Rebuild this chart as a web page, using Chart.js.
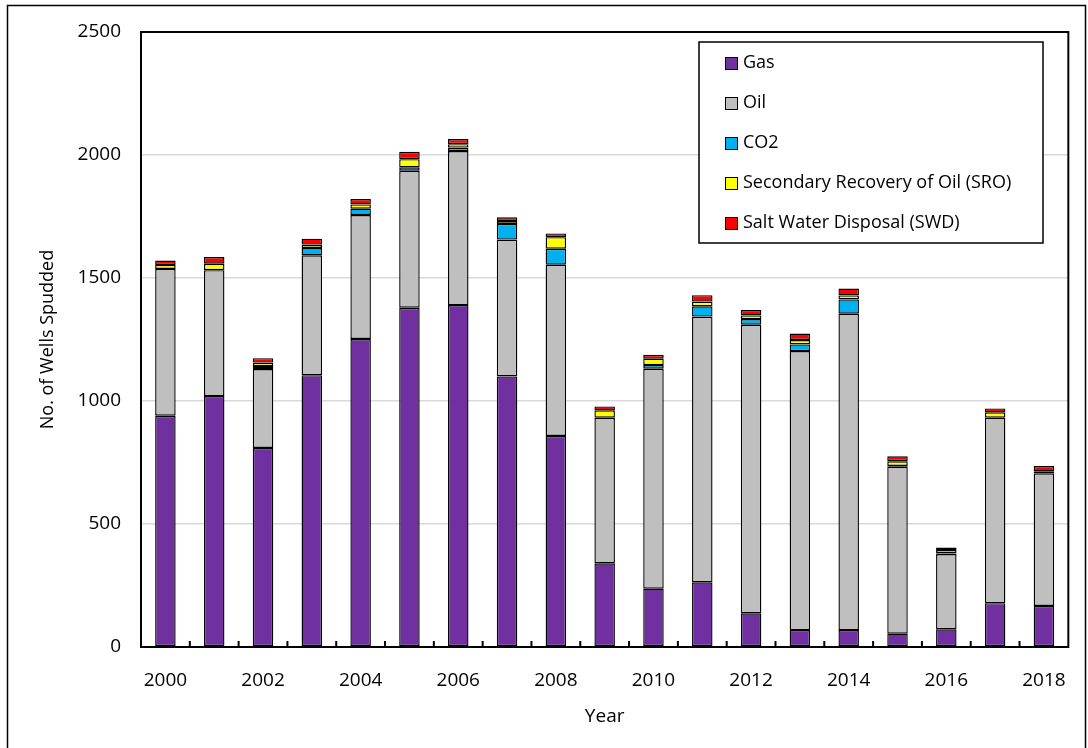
<!DOCTYPE html>
<html>
<head>
<meta charset="utf-8">
<script src="https://cdn.jsdelivr.net/npm/chart.js@4.4.1/dist/chart.umd.min.js"></script>
<style>
  html, body { margin: 0; padding: 0; background: #fff; }
  #wrap { position: relative; width: 1088px; height: 748px; }
</style>
</head>
<body>
<div id="wrap"><canvas id="wellsChart" width="1088" height="748"></canvas></div>
<script>
// Wells spudded per year, by well type
const years = ['2000', '2001', '2002', '2003', '2004', '2005', '2006', '2007', '2008', '2009',
               '2010', '2011', '2012', '2013', '2014', '2015', '2016', '2017', '2018'];
const gasWells = [940, 1020, 809, 1105, 1252, 1379, 1390, 1100, 858, 340, 237, 263, 137, 69, 69, 54, 72, 178, 167];
const oilWells = [597, 512, 321, 487, 504, 557, 626, 556, 696, 592, 894, 1080, 1173, 1134, 1286, 679, 306, 754, 539];
const co2Wells = [0, 0, 12, 30, 26, 14, 14, 64, 65, 0, 15, 42, 23, 27, 58, 3, 2, 0, 0];
const sroWells = [16, 26, 14, 14, 17, 33, 14, 12, 47, 30, 26, 19, 15, 18, 16, 19, 14, 22, 8];
const swdWells = [18, 27, 18, 24, 22, 30, 21, 15, 15, 16, 16, 26, 22, 26, 28, 20, 10, 16, 22];
const yTicks = [0, 500, 1000, 1500, 2000, 2500];

const FONT = "'Open Sans', 'Noto Sans', sans-serif";

// outer frame + inward tick marks on the x axis
const framePlugin = {
    id: 'frame',
    beforeDraw(chart) {
        const ctx = chart.ctx;
        ctx.save();
        ctx.strokeStyle = '#000';
        ctx.lineWidth = 1.5;
        ctx.strokeRect(7.5, 5.5, 1078, 760);
        ctx.restore();
    },
    afterDraw(chart) {
        const ctx = chart.ctx;
        const area = chart.chartArea;
        const x = chart.scales.x;
        ctx.save();
        ctx.strokeStyle = '#000';
        ctx.lineWidth = 2;
        // plot border
        ctx.strokeRect(area.left, area.top, area.right - area.left, area.bottom - area.top);
        // small ticks between categories
        ctx.beginPath();
        for (let i = 0; i < years.length - 1; i++) {
            const px = (x.getPixelForValue(i) + x.getPixelForValue(i + 1)) / 2;
            ctx.moveTo(px, area.bottom);
            ctx.lineTo(px, area.bottom - 6);
        }
        ctx.stroke();
        ctx.restore();
    }
};

// boxed legend sitting inside the plot area
const boxLegendPlugin = {
    id: 'boxLegend',
    afterDraw(chart) {
        const ctx = chart.ctx;
        const area = chart.chartArea;
        const left = area.left + 558;
        const top = area.top + 10;
        ctx.save();
        ctx.fillStyle = '#fff';
        ctx.fillRect(left, top, 344, 201);
        ctx.strokeStyle = '#000';
        ctx.lineWidth = 1.5;
        ctx.strokeRect(left, top, 344, 201);
        ctx.font = '18px ' + FONT;
        ctx.textBaseline = 'middle';
        chart.data.datasets.forEach((ds, i) => {
            const cy = top + 21 + i * 40;
            ctx.fillStyle = ds.backgroundColor;
            ctx.fillRect(left + 26, cy - 6, 12, 12);
            ctx.lineWidth = 1;
            ctx.strokeRect(left + 26.5, cy - 5.5, 12, 12);
            ctx.fillStyle = '#000';
            ctx.fillText(ds.label, left + 44, cy);
        });
        ctx.restore();
    }
};

function makeSet(label, data, color) {
    return {
        label: label,
        data: data,
        backgroundColor: color,
        borderColor: '#000',
        borderWidth: 1.4,
        borderSkipped: false,
        barPercentage: 0.42,
        categoryPercentage: 1.0
    };
}

const ctx = document.getElementById('wellsChart').getContext('2d');
new Chart(ctx, {
    type: 'bar',
    data: {
        labels: years,
        datasets: [
            makeSet('Gas', gasWells, '#7030A0'),
            makeSet('Oil', oilWells, '#BFBFBF'),
            makeSet('CO2', co2Wells, '#00B0F0'),
            makeSet('Secondary Recovery of Oil (SRO)', sroWells, '#FFFF00'),
            makeSet('Salt Water Disposal (SWD)', swdWells, '#FF0000')
        ]
    },
    options: {
        responsive: false,
        animation: false,
        layout: { padding: { top: 32, right: 13, left: 37, bottom: 20 } },
        plugins: {
            legend: { display: false },
            tooltip: { enabled: false }
        },
        scales: {
            x: {
                stacked: true,
                afterFit: function(scale) {
                    scale.height = 81;
                },
                grid: { display: false, drawTicks: false },
                border: { display: false },
                ticks: {
                    autoSkip: false,
                    maxRotation: 0,
                    padding: 22,
                    color: '#000',
                    font: { family: FONT, size: 19 },
                    callback: function(value, index) {
                        return index % 2 === 0 ? years[index] : '';
                    }
                },
                title: {
                    display: true,
                    text: 'Year',
                    color: '#000',
                    font: { family: FONT, size: 19 },
                    padding: { top: 3, bottom: 0 }
                }
            },
            y: {
                stacked: true,
                min: 0,
                max: 2500,
                afterBuildTicks: function(scale) {
                    scale.ticks = yTicks.map(v => ({ value: v }));
                },
                afterFit: function(scale) {
                    scale.width = 104;
                },
                grid: { color: '#D9D9D9', lineWidth: 1.5, drawTicks: false },
                border: { display: false },
                ticks: {
                    padding: 20,
                    color: '#000',
                    font: { family: FONT, size: 19 },
                    callback: function(value) {
                        return String(value);
                    }
                },
                title: {
                    display: true,
                    text: 'No. of Wells Spudded',
                    color: '#000',
                    font: { family: FONT, size: 18 },
                    padding: { top: 0, bottom: 0 }
                }
            }
        }
    },
    plugins: [framePlugin, boxLegendPlugin]
});
</script>
</body>
</html>
